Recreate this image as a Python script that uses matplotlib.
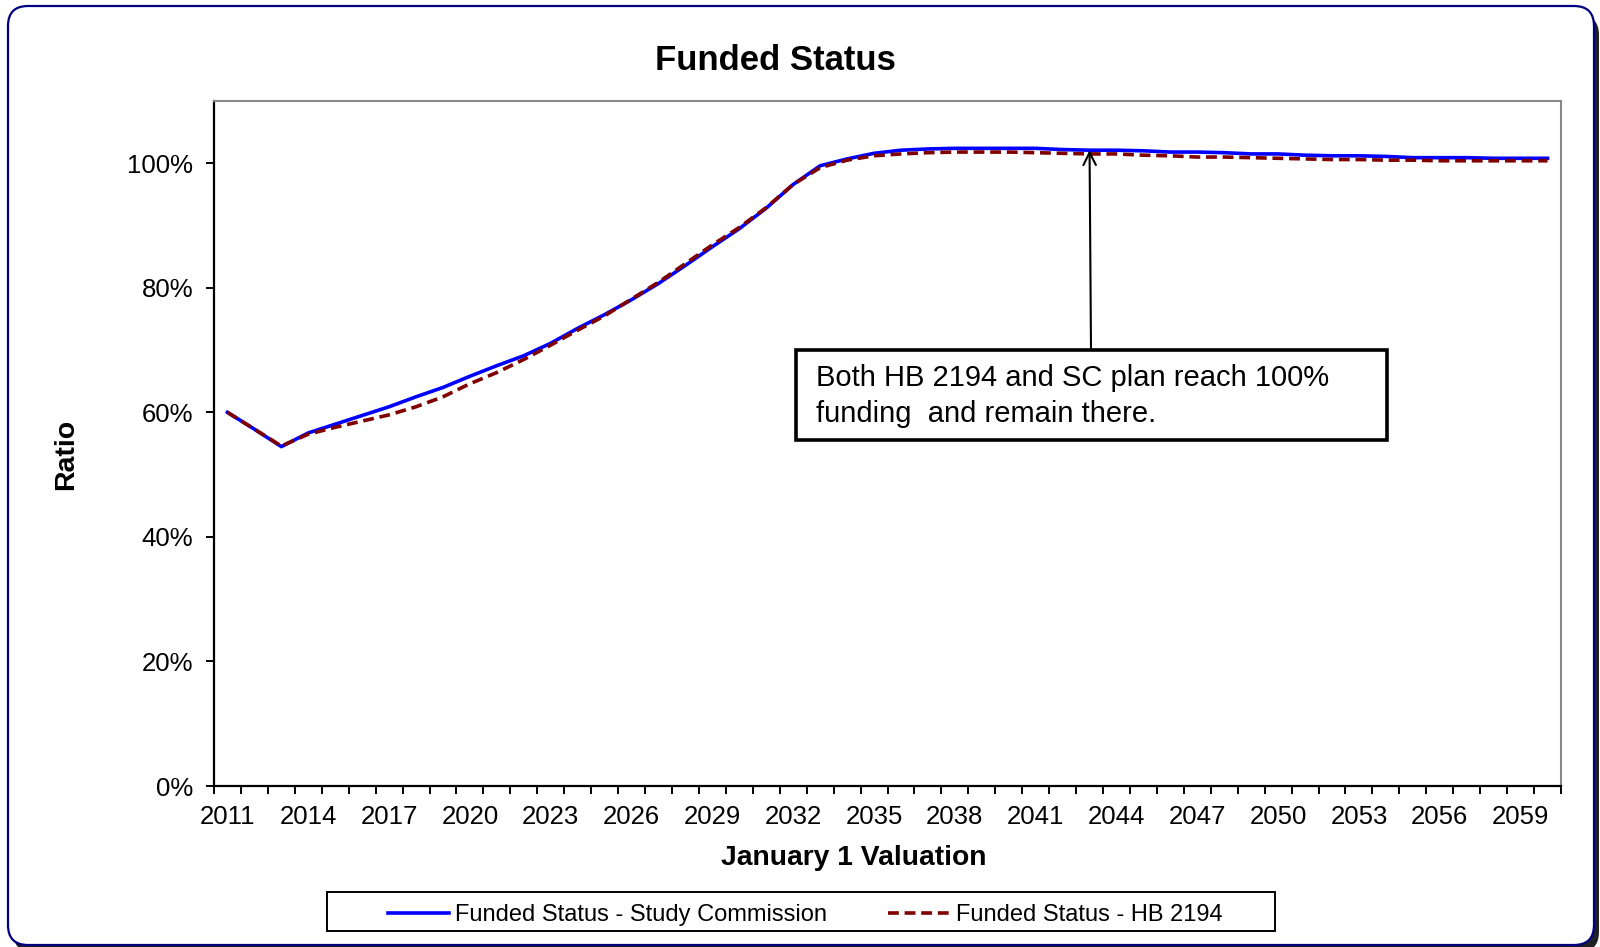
import numpy as np
import matplotlib
matplotlib.use('Agg')
from matplotlib import pyplot as plt
from matplotlib.patches import Rectangle, FancyBboxPatch
from matplotlib.ticker import FixedLocator, FuncFormatter

plt.rcParams['font.family'] = ['Liberation Sans', 'DejaVu Sans']

# January 1 valuation years
years = list(range(2011, 2061))

# funded ratio (%) - Study Commission
study_commission = [
    60.0, 57.3, 54.5, 56.7, 58.1, 59.5, 60.9, 62.5, 64.0, 65.8,
    67.5, 69.1, 71.1, 73.5, 75.7, 78.1, 80.7, 83.6, 86.6, 89.5,
    92.8, 96.6, 99.6, 100.7, 101.6, 102.1, 102.3, 102.4, 102.4, 102.4,
    102.4, 102.2, 102.1, 102.1, 102.0, 101.8, 101.8, 101.7, 101.5, 101.5,
    101.3, 101.2, 101.2, 101.1, 100.9, 100.9, 100.9, 100.8, 100.8, 100.8,
]

# funded ratio (%) - HB 2194
hb2194 = [
    60.0, 57.3, 54.6, 56.5, 57.6, 58.6, 59.6, 60.9, 62.5, 64.6,
    66.4, 68.5, 70.8, 73.2, 75.5, 78.2, 80.9, 83.9, 86.9, 89.7,
    92.9, 96.6, 99.3, 100.5, 101.2, 101.5, 101.7, 101.8, 101.8, 101.8,
    101.7, 101.6, 101.5, 101.5, 101.3, 101.2, 101.0, 101.0, 100.9, 100.8,
    100.7, 100.6, 100.6, 100.5, 100.5, 100.4, 100.4, 100.4, 100.4, 100.4,
]

y_ticks = [0, 20, 40, 60, 80, 100]
label_every = 3
note = 'Both HB 2194 and SC plan reach 100%\nfunding  and remain there.'
note_year = 2043

W, H = 1600, 947
fig = plt.figure(figsize=(W / 100, H / 100), dpi=100)

# outer rounded frame with shadow (in inches)
shadow = FancyBboxPatch((0.13, -0.05), 15.86, 9.37, boxstyle='round,pad=0,rounding_size=0.2',
                        transform=fig.dpi_scale_trans, fc='#202020', ec='none', zorder=0)
frame = FancyBboxPatch((0.08, 0.02), 15.86, 9.39, boxstyle='round,pad=0,rounding_size=0.2',
                       transform=fig.dpi_scale_trans, fc='white', ec='#000080', lw=1.6, zorder=1)
fig.patches.extend([shadow, frame])

ax = fig.add_axes([214 / W, 1 - 786 / H, 1347 / W, 685 / H])
ax.set_zorder(2)
x = np.arange(len(years))
ax.plot(x, study_commission, color='#0000ff', lw=2.6, label='Funded Status - Study Commission', zorder=3)
ax.plot(x, hb2194, color='#800000', lw=2.6, dashes=(3.0, 1.6), label='Funded Status - HB 2194', zorder=4)

ax.set_xlim(-0.5, len(years) - 0.5)
ax.set_ylim(0, 110)
ax.xaxis.set_major_locator(FixedLocator(list(range(0, len(years), label_every))))
ax.xaxis.set_major_formatter(FuncFormatter(lambda v, p: str(years[int(round(v))])))
ax.xaxis.set_minor_locator(FixedLocator(list(np.arange(-0.5, len(years), 1.0))))
ax.tick_params(axis='x', which='major', length=0, pad=14, labelsize=18.5)
ax.tick_params(axis='x', which='minor', length=6, width=1.4, direction='out')
ax.set_yticks(y_ticks)
ax.yaxis.set_major_formatter(FuncFormatter(lambda v, p: '%d%%' % v))
ax.tick_params(axis='y', length=6, width=1.4, direction='out', pad=9, labelsize=18.5)
for s in ['left', 'bottom']:
    ax.spines[s].set_linewidth(1.6)
    ax.spines[s].set_color('black')
for s in ['top', 'right']:
    ax.spines[s].set_linewidth(1.5)
    ax.spines[s].set_color('#888888')

fig.text(775 / W, 1 - 60 / H, 'Funded Status', ha='center', va='center', fontsize=25, fontweight='bold')
fig.text(854 / W, 1 - 858 / H, 'January 1 Valuation', ha='center', va='center', fontsize=20.3, fontweight='bold')
fig.text(66 / W, 1 - 454 / H, 'Ratio', ha='center', va='center', rotation=90, fontsize=20.5, fontweight='bold')

# annotation box + arrow
i_note = years.index(note_year)
ax.annotate('', xy=(i_note, study_commission[i_note]), xycoords='data',
            xytext=(1091, H - 350), textcoords='figure pixels',
            arrowprops=dict(arrowstyle='->,head_length=0.9,head_width=0.45', color='black', lw=1.5,
                            shrinkA=0, shrinkB=0), zorder=6)
box = Rectangle((796 / W, 1 - 440 / H), 591 / W, 90 / H, transform=fig.transFigure,
                fc='white', ec='black', lw=2.6, zorder=7)
fig.patches.append(box)
fig.text(816 / W, 1 - 396 / H, note, ha='left', va='center', fontsize=21, linespacing=1.32, zorder=8)

# legend with a separate square box
leg_box = Rectangle((327 / W, 1 - 931 / H), 948 / W, 39 / H, transform=fig.transFigure,
                    fc='white', ec='black', lw=1.4, zorder=2)
fig.patches.append(leg_box)
fig.legend(loc='center', bbox_to_anchor=(805 / W, 1 - 915 / H), ncol=2, frameon=False,
           fontsize=17, handlelength=2.6, handletextpad=0.25, columnspacing=2.6, borderpad=0.2)

fig.savefig('out.png', dpi=100)
